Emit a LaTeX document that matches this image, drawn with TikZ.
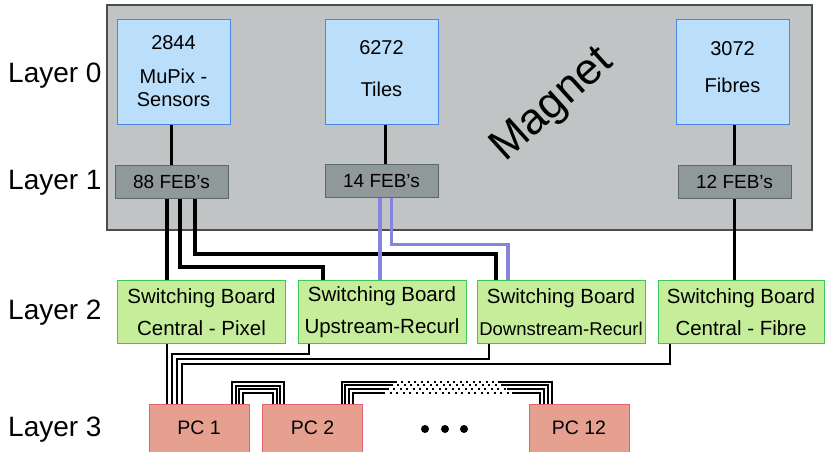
\documentclass[tikz,border=0pt]{standalone}
\usepackage{fontspec}
\setmainfont{Liberation Sans}
\usetikzlibrary{calc}
\definecolor{magfill}{HTML}{C1C4C5}
\definecolor{magborder}{HTML}{4C4C4C}
\definecolor{lzfill}{HTML}{BBDEFB}
\definecolor{lzborder}{HTML}{4A86E8}
\definecolor{febfill}{HTML}{8F9999}
\definecolor{febborder}{HTML}{5A6868}
\definecolor{bdfill}{HTML}{C6EE9A}
\definecolor{bdborder}{HTML}{3CC85A}
\definecolor{pcfill}{HTML}{E6A090}
\definecolor{pcborder}{HTML}{E8606E}
\definecolor{bluec}{HTML}{8585DD}
\pgfdeclarelayer{back}
\pgfdeclarelayer{mid}
\pgfsetlayers{back,mid,main}
\tikzset{
  lzbox/.style={draw=lzborder, fill=lzfill, line width=0.8pt, minimum width=113pt, minimum height=105pt, inner sep=0pt, outer sep=0pt},
  febbox/.style={draw=febborder, fill=febfill, line width=1pt, minimum width=113pt, minimum height=33pt, inner sep=0pt, outer sep=0pt, font=\fontsize{19}{22}\selectfont},
  board/.style={draw=bdborder, fill=bdfill, line width=1pt, minimum width=168pt, minimum height=63pt, inner sep=0pt, outer sep=0pt, align=center, font=\fontsize{20.5}{32}\selectfont},
  pcbox/.style={draw=pcborder, fill=pcfill, line width=1pt, minimum width=100pt, minimum height=48pt, inner sep=0pt, outer sep=0pt, font=\fontsize{19.5}{22}\selectfont},
  lztext/.style={inner sep=0pt, font=\fontsize{20}{24}\selectfont},
  layertext/.style={inner sep=0pt, anchor=base west, font=\fontsize{28}{32}\selectfont},
  cable/.style={line width=3.2pt, draw=black},
  bluecable/.style={line width=3.2pt, draw=bluec},
  pccable/.style={line width=2.8pt, draw=black},
  bundle/.style={line width=2pt, draw=black},
  dotbundle/.style={line width=2pt, draw=black, dash pattern=on 2pt off 4.5pt}
}
\begin{document}
\begin{tikzpicture}[x=1pt,y=-1pt]
\path[use as bounding box] (0,0) rectangle (825,451);

% magnet
\begin{pgfonlayer}{back}
\node[draw=magborder, fill=magfill, line width=2.8pt, minimum width=705pt, minimum height=225pt, inner sep=0pt] (magnet) at (459.5,117.5) {};
\end{pgfonlayer}
\node[rotate=42, inner sep=0pt, font=\fontsize{44}{50}\selectfont] (magtext) at (553,106) {Magnet};

% layer labels
\node[layertext] (l0) at (8,82.5) {Layer 0};
\node[layertext] (l1) at (8,189) {Layer 1};
\node[layertext] (l2) at (8,319) {Layer 2};
\node[layertext] (l3) at (8,436) {Layer 3};

% layer 0
\node[lzbox] (mupix) at (173.5,71.5) {};
\node[lzbox] (tiles) at (381.5,71.5) {};
\node[lzbox] (fibres) at (732.5,72) {};
\node[lztext] (t2844) at (173.5,43) {2844};
\node[lztext] (tmupix) at (173.5,76) {MuPix -};
\node[lztext] (tsens) at (173.5,100) {Sensors};
\node[lztext] (t6272) at (381.5,48) {6272};
\node[lztext] (ttiles) at (381.5,89) {Tiles};
\node[lztext] (t3072) at (732.5,49) {3072};
\node[lztext] (tfib) at (732.5,85) {Fibres};

% layer 1
\node[febbox] (feb88) at (171.5,181.5) {88 FEB's};
\node[febbox] (feb14) at (381.5,181) {14 FEB's};
\node[febbox] (feb12) at (734.5,182) {12 FEB's};

% layer 2
\node[board] (sbcp) at (201.5,312) {Switching Board\\Central - Pixel};
\node[board] (sbup) at (382,312) {Switching Board\\Upstream-Recurl};
\node[board] (sbdown) at (561,312) {Switching Board\\{\fontsize{18.5}{32}\selectfont Downstream-Recurl}};
\node[board, minimum width=166pt] (sbfib) at (741,312) {Switching Board\\Central - Fibre};

% layer 3
\node[pcbox] (pc1) at (199,428) {PC 1};
\node[pcbox] (pc2) at (312.5,428) {PC 2};
\node[pcbox] (pc12) at (579,428) {PC 12};
\fill (425,429) circle (4);
\fill (445,429) circle (4);
\fill (464,429) circle (4);

\begin{pgfonlayer}{mid}
% layer 0 -> layer 1
\draw[cable] (feb88.north |- mupix.south) -- (feb88.north);
\draw[cable] ([xshift=4pt]tiles.south) -- ([xshift=4pt]feb14.north);
\draw[cable] (feb12.north |- fibres.south) -- (feb12.north);
% layer 1 -> layer 2
\draw[cable] ([xshift=-4.5pt]feb88.south) -- ([xshift=-34.5pt]sbcp.north);
\draw[cable] ([xshift=8.5pt]feb88.south) -- ++(0,69) -| ([xshift=-59pt]sbup.north);
\draw[cable] ([xshift=23.5pt]feb88.south) -- ++(0,56) -| ([xshift=-65pt]sbdown.north);
\draw[bluecable] ([xshift=-1.5pt]feb14.south) -- ([xshift=-2pt]sbup.north);
\draw[bluecable] ([xshift=10pt]feb14.south) -- ++(0,47) -| ([xshift=-53pt]sbdown.north);
\draw[cable] (feb12.south) -- (feb12.south |- sbfib.north);
% layer 2 -> layer 3
\draw[pccable] ([xshift=-34.5pt]sbcp.south) -- ([xshift=-32pt]pc1.north);
\draw[pccable] ([xshift=-73pt]sbup.south) -- ++(0,10.5) -| ([xshift=-27pt]pc1.north);
\draw[pccable] ([xshift=-72pt]sbdown.south) -- ++(0,15.5) -| ([xshift=-22pt]pc1.north);
\draw[pccable] ([xshift=-71pt]sbfib.south) -- ++(0,20.5) -| ([xshift=-17pt]pc1.north);
% PC bundles
\foreach \i in {0,1,2,3}{
  \pgfmathsetmacro\d{3.67*\i}
  \pgfmathsetmacro\xa{33+\d}
  \pgfmathsetmacro\xb{-28.5-\d}
  \pgfmathsetmacro\up{-22+\d}
  \draw[bundle] ([xshift=\xa pt]pc1.north) -- ++(0,\up) -| ([xshift=\xb pt]pc2.north);
}
\foreach \i in {0,1,2,3}{
  \pgfmathsetmacro\d{3.77*\i}
  \pgfmathsetmacro\xa{29.2+\d}
  \pgfmathsetmacro\xb{-27.3-\d}
  \pgfmathsetmacro\up{-22.3+\d}
  \pgfmathsetmacro\la{53-7.67*\i}
  \pgfmathsetmacro\lb{103+8.67*\i}
  \draw[bundle] ([xshift=\xa pt]pc2.north) -- ++(0,\up) -- ++(\la,0) coordinate (m\i);
  \draw[dotbundle] (m\i) -- ++(\lb,0) coordinate (n\i);
  \draw[bundle] (n\i) -| ([xshift=\xb pt]pc12.north);
}
\end{pgfonlayer}
\end{tikzpicture}
\end{document}
